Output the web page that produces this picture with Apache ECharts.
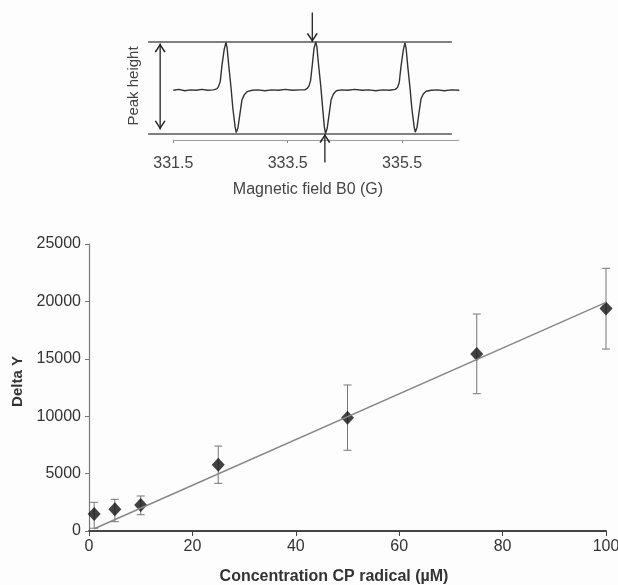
<!DOCTYPE html>
<html>
<head>
<meta charset="utf-8">
<script src="https://cdn.jsdelivr.net/npm/echarts@6.0.0/dist/echarts.min.js"></script>
<style>
  html, body { margin: 0; padding: 0; background: #fdfdfd; }
  #chart { width: 618px; height: 585px; }
</style>
</head>
<body>
<div id="chart"></div>
<script>
// main plot: delta Y vs concentration
const conc = [1, 5, 10, 25, 50, 75, 100];
const deltaY = [1480, 1890, 2260, 5780, 9870, 15420, 19380];
const errLow = [240, 810, 1420, 4150, 7030, 11960, 15850];
const errHigh = [2500, 2760, 3050, 7400, 12720, 18900, 22880];
const fitX = [1, 100];
const fitY = [200, 19920];

// inset: EPR spectrum
const fieldB = [331.50, 331.60, 331.70, 331.80, 331.90, 332.00, 332.10, 332.20, 332.26, 332.29,
  332.32, 332.35, 332.39, 332.42, 332.44, 332.47, 332.51, 332.54, 332.58, 332.60,
  332.63, 332.67, 332.70, 332.74, 332.79, 332.88, 332.98, 333.10, 333.22, 333.34,
  333.46, 333.58, 333.70, 333.80, 333.84, 333.87, 333.90, 333.93, 333.96, 333.99,
  334.01, 334.04, 334.08, 334.11, 334.14, 334.16, 334.19, 334.23, 334.26, 334.30,
  334.35, 334.44, 334.55, 334.67, 334.80, 334.92, 335.04, 335.16, 335.28, 335.38,
  335.42, 335.45, 335.48, 335.52, 335.55, 335.57, 335.60, 335.64, 335.67, 335.71,
  335.73, 335.76, 335.80, 335.83, 335.87, 335.92, 336.01, 336.12, 336.24, 336.36, 336.50];
const signal = [-0.05, -0.03, -0.06, -0.04, -0.05, -0.03, -0.05, -0.04, -0.02, 0.03,
  0.14, 0.48, 0.84, 0.99, 0.88, 0.48, 0.00, -0.43, -0.84, -0.97,
  -0.87, -0.52, -0.26, -0.15, -0.08, -0.05, -0.04, -0.06, -0.04, -0.05,
  -0.03, -0.05, -0.04, -0.04, -0.01, 0.04, 0.16, 0.50, 0.86, 1.00,
  0.90, 0.50, 0.02, -0.42, -0.84, -0.99, -0.88, -0.52, -0.25, -0.13,
  -0.06, -0.04, -0.05, -0.03, -0.05, -0.04, -0.06, -0.04, -0.05, -0.03,
  0.01, 0.12, 0.46, 0.82, 0.98, 0.86, 0.46, -0.02, -0.44, -0.84,
  -0.96, -0.86, -0.50, -0.24, -0.13, -0.07, -0.05, -0.04, -0.06, -0.04, -0.05];
const insetTicks = [331.5, 333.5, 335.5];
const insetAxisX = [331.5, 336.5];     // drawn extent of the inset field axis
const insetAxisY = -1.14;
const refLineX = [331.06, 336.37];     // "peak height" guide lines
const refLineY = [1, -1];
const sideArrow = [331.27, 0.97, -0.9];   // x, top, bottom
const topArrow = [333.93, 1.64, 1.0];
const bottomArrow = [334.15, -1.62, -1.0];

const font = 'Liberation Sans, Arial, sans-serif';
const upHead = 'path://M0,10 L6,0 L12,10 L10.5,10.8 L6,3 L1.5,10.8 Z';
const downHead = 'path://M0,0 L6,10 L12,0 L10.5,-0.8 L6,7 L1.5,-0.8 Z';

function insetLine(data, color, width) {
    return {
        type: 'line', xAxisIndex: 0, yAxisIndex: 0, clip: false, silent: true,
        showSymbol: false,
        lineStyle: {color: color, width: width},
        data: data
    };
}

function arrowSeries(data) {
    return {
        type: 'line', xAxisIndex: 0, yAxisIndex: 0, clip: false, silent: true,
        lineStyle: {color: '#222', width: 1.3},
        itemStyle: {color: '#222'},
        symbolSize: [11, 9],
        data: data
    };
}

const myChart = echarts.init(document.getElementById('chart'));
myChart.setOption({
    animation: false,
    backgroundColor: '#fdfdfd',
    textStyle: {fontFamily: font},
    grid: [
        {left: 144.7, top: 42, width: 314.6, height: 92, outerBoundsMode: 'none'},
        {left: 89, top: 244, right: 12, bottom: 54, outerBoundsMode: 'none'}
    ],
    xAxis: [
        {
            gridIndex: 0, type: 'value', min: 331.0, max: 336.5, offset: 6,
            axisLine: {show: false, onZero: false},
            axisTick: {customValues: insetTicks, length: 3, lineStyle: {color: '#888'}},
            axisLabel: {customValues: insetTicks, formatter: v => v.toFixed(1),
                fontSize: 16, color: '#444', margin: 16},
            splitLine: {show: false},
            name: 'Magnetic field B0 (G)', nameLocation: 'middle', nameGap: 42,
            nameTextStyle: {fontSize: 16, color: '#444', padding: [0, 0, 0, 12]}
        },
        {
            gridIndex: 1, type: 'value', min: 0, max: 100, interval: 20,
            axisLine: {lineStyle: {color: '#444', width: 2}},
            axisTick: {length: 5, lineStyle: {color: '#444'}},
            axisLabel: {fontSize: 16, color: '#333', margin: 8},
            splitLine: {show: false},
            name: 'Concentration CP radical (µM)', nameLocation: 'middle', nameGap: 38,
            nameTextStyle: {fontSize: 16, fontWeight: 'bold', color: '#333', padding: [0, 27, 0, 0]}
        }
    ],
    yAxis: [
        {
            gridIndex: 0, type: 'value', min: -1, max: 1,
            axisLine: {show: false}, axisTick: {show: false}, axisLabel: {show: false},
            splitLine: {show: false},
            name: 'Peak height', nameLocation: 'middle', nameGap: 3,
            nameTextStyle: {fontSize: 15, color: '#444', padding: [0, 0, 0, 4]}
        },
        {
            gridIndex: 1, type: 'value', min: 0, max: 25000, interval: 5000,
            axisLine: {show: true, lineStyle: {color: '#777', width: 1.2}},
            axisTick: {show: true, length: 4, lineStyle: {color: '#777'}},
            axisLabel: {fontSize: 16, color: '#333', margin: 8, formatter: v => String(v)},
            splitLine: {show: false},
            name: 'Delta Y', nameLocation: 'middle', nameGap: 62,
            nameTextStyle: {fontSize: 15, fontWeight: 'bold', color: '#333', padding: [0, 0, 0, 12]}
        }
    ],
    series: [
        insetLine([[insetAxisX[0], insetAxisY], [insetAxisX[1], insetAxisY]], '#999', 1),
        insetLine([[refLineX[0], refLineY[0]], [refLineX[1], refLineY[0]]], '#808080', 1.8),
        insetLine([[refLineX[0], refLineY[1]], [refLineX[1], refLineY[1]]], '#808080', 1.8),
        insetLine(fieldB.map((b, i) => [b, signal[i]]), '#333', 1.4),
        arrowSeries([
            {value: [sideArrow[0], sideArrow[1]], symbol: upHead, symbolOffset: [0, 4.5]},
            {value: [sideArrow[0], sideArrow[2]], symbol: downHead, symbolOffset: [0, -4.5]}
        ]),
        arrowSeries([
            {value: [topArrow[0], topArrow[1]], symbol: 'none'},
            {value: [topArrow[0], topArrow[2]], symbol: downHead, symbolOffset: [0, -4.5]}
        ]),
        arrowSeries([
            {value: [bottomArrow[0], bottomArrow[1]], symbol: 'none'},
            {value: [bottomArrow[0], bottomArrow[2]], symbol: upHead, symbolOffset: [0, 4.5]}
        ]),
        {
            type: 'line', xAxisIndex: 1, yAxisIndex: 1, silent: true,
            showSymbol: false,
            lineStyle: {color: '#888', width: 1.5},
            data: fitX.map((x, i) => [x, fitY[i]])
        },
        {
            type: 'custom', xAxisIndex: 1, yAxisIndex: 1, silent: true,
            data: conc.map((c, i) => [c, errLow[i], errHigh[i]]),
            encode: {x: 0, y: [1, 2]},
            renderItem: function (params, api) {
                const lo = api.coord([api.value(0), api.value(1)]);
                const hi = api.coord([api.value(0), api.value(2)]);
                const w = 4;
                const st = {stroke: '#777', lineWidth: 1};
                return {
                    type: 'group',
                    children: [
                        {type: 'line', shape: {x1: lo[0], y1: lo[1], x2: hi[0], y2: hi[1]}, style: st},
                        {type: 'line', shape: {x1: lo[0] - w, y1: lo[1], x2: lo[0] + w, y2: lo[1]}, style: st},
                        {type: 'line', shape: {x1: hi[0] - w, y1: hi[1], x2: hi[0] + w, y2: hi[1]}, style: st}
                    ]
                };
            }
        },
        {
            type: 'scatter', xAxisIndex: 1, yAxisIndex: 1, silent: true,
            symbol: 'diamond', symbolSize: [13, 14],
            itemStyle: {color: '#111'},
            data: conc.map((c, i) => [c, deltaY[i]])
        }
    ]
});
</script>
</body>
</html>
